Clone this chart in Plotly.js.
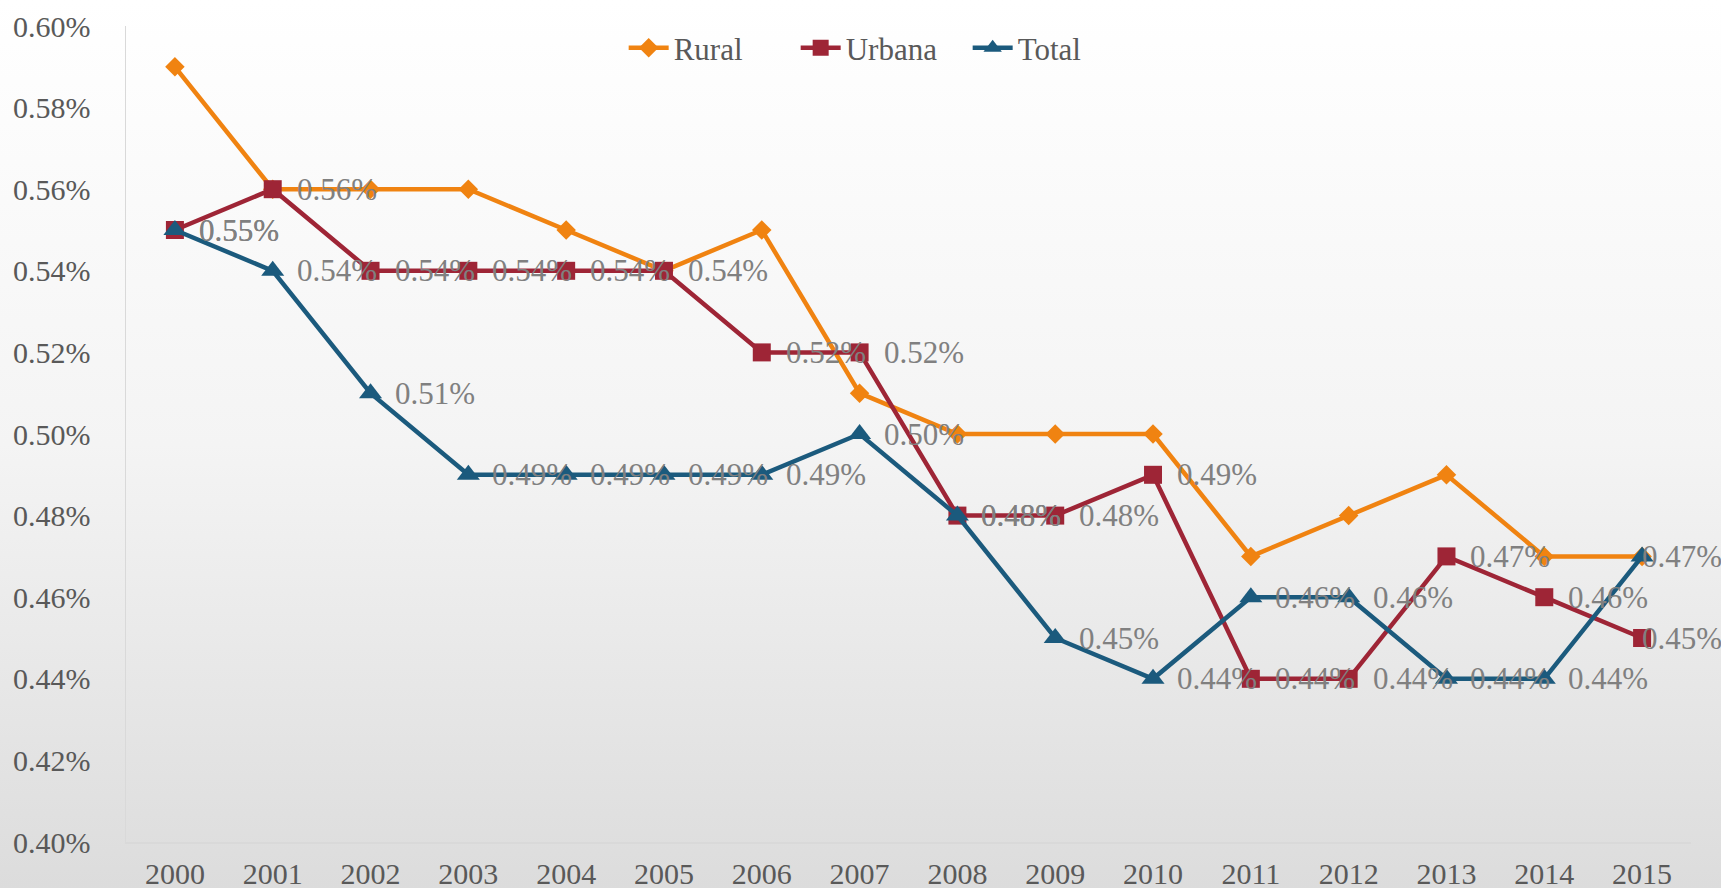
<!DOCTYPE html>
<html>
<head>
<meta charset="utf-8">
<script src="https://cdn.plot.ly/plotly-3.0.1.min.js"></script>
<style>
  html, body { margin: 0; padding: 0; }
  body { width: 1721px; height: 888px; background: linear-gradient(to bottom, #ffffff 0%, #f4f4f4 50%, #dcdcdc 100%); }
  #chart { width: 1721px; height: 888px; }
</style>
</head>
<body>
<div id="chart"></div>
<script>
const years = ['2000','2001','2002','2003','2004','2005','2006','2007','2008','2009','2010','2011','2012','2013','2014','2015'];
const rural  = [0.59,0.56,0.56,0.56,0.55,0.54,0.55,0.51,0.50,0.50,0.50,0.47,0.48,0.49,0.47,0.47];
const urbana = [0.55,0.56,0.54,0.54,0.54,0.54,0.52,0.52,0.48,0.48,0.49,0.44,0.44,0.47,0.46,0.45];
const total  = [0.55,0.54,0.51,0.49,0.49,0.49,0.49,0.50,0.48,0.45,0.44,0.46,0.46,0.44,0.44,0.47];
const yTicks = [0.40,0.42,0.44,0.46,0.48,0.50,0.52,0.54,0.56,0.58,0.60];

const FONT = 'Liberation Serif, Times New Roman, serif';
const fmt = v => v.toFixed(2) + '%';
const labelFont = {family: FONT, size: 31, color: '#808080'};

const traces = [
  {
    name: 'Rural', x: years, y: rural, type: 'scatter', mode: 'lines+markers',
    line: {color: '#F08311', width: 4.5},
    marker: {symbol: 'diamond', size: 15, color: '#F08311'}
  },
  {
    name: 'Urbana', x: years, y: urbana, type: 'scatter', mode: 'lines+markers',
    line: {color: '#9E2536', width: 4.5},
    marker: {symbol: 'square', size: 18, color: '#9E2536'}
  },
  {
    name: 'Total', x: years, y: total, type: 'scatter', mode: 'lines+markers',
    line: {color: '#1B5A7D', width: 4.5},
    marker: {symbol: 'triangle-up', size: 20, color: '#1B5A7D'}
  }
];

// data labels for Urbana and Total, built from the series arrays
function labelsFor(values) {
  return values.map((v, i) => ({
    x: i, y: v, xref: 'x', yref: 'y',
    text: fmt(v), showarrow: false,
    xanchor: 'left', yanchor: 'middle',
    xshift: i === values.length - 1 ? -2 : 22,
    font: labelFont
  }));
}
const annotations = labelsFor(urbana).concat(labelsFor(total));

const layout = {
  width: 1721, height: 888,
  paper_bgcolor: 'rgba(0,0,0,0)', plot_bgcolor: 'rgba(0,0,0,0)',
  margin: {l: 126, r: 30, t: 26, b: 46},
  font: {family: FONT, color: '#595959', size: 30},
  showlegend: true,
  legend: {
    orientation: 'h', x: 0.318, xanchor: 'left', y: 0.973, yanchor: 'middle',
    bgcolor: 'rgba(0,0,0,0)', font: {family: FONT, size: 31, color: '#595959'},
    itemwidth: 40, entrywidth: 117, entrywidthmode: 'pixels'
  },
  annotations: annotations,
  xaxis: {
    type: 'category', range: [-0.5, 15.5], showgrid: false, zeroline: false,
    showline: true, linecolor: '#d9d9d9', linewidth: 1.5,
    ticks: '', tickfont: {family: FONT, size: 30, color: '#595959'},
    ticklabelstandoff: 4
  },
  yaxis: {
    range: [0.40, 0.60], tickvals: yTicks, ticktext: yTicks.map(fmt),
    showgrid: false, zeroline: false,
    showline: true, linecolor: '#d9d9d9', linewidth: 1.5,
    ticks: '', tickfont: {family: FONT, size: 30, color: '#595959'},
    ticklabelstandoff: 28
  }
};

Plotly.newPlot('chart', traces, layout, {displayModeBar: false, staticPlot: true});
</script>
</body>
</html>
